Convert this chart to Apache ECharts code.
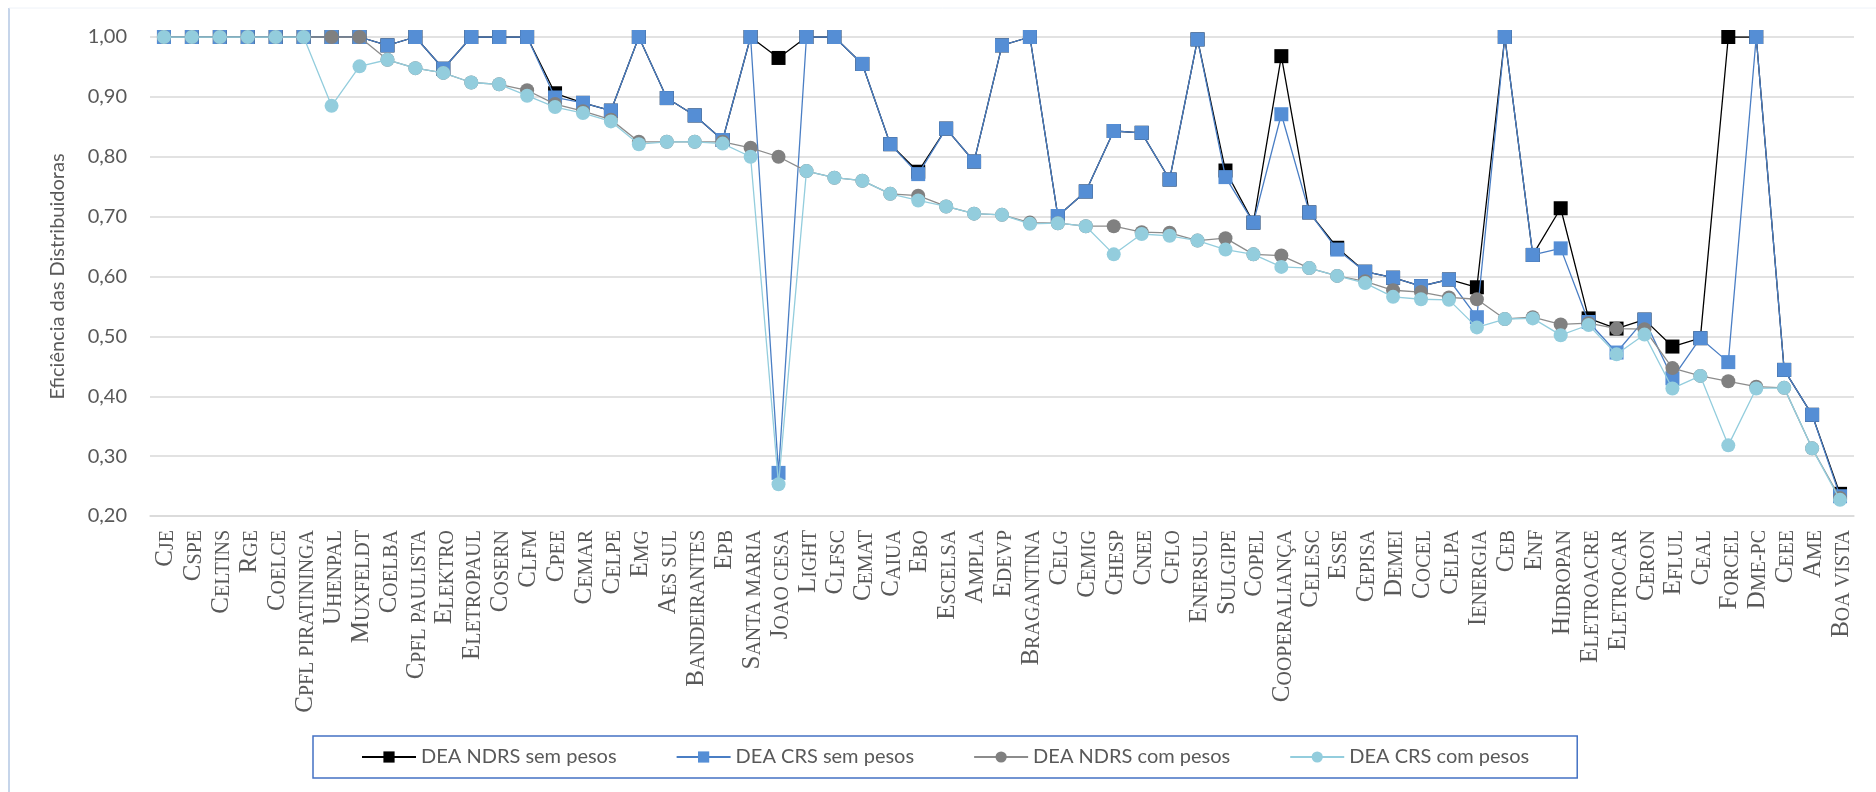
<!DOCTYPE html>
<html>
<head>
<meta charset="utf-8">
<script src="https://cdn.jsdelivr.net/npm/echarts@6/dist/echarts.min.js"></script>
<style>
  html, body { margin: 0; padding: 0; background: #fff; }
  #chart { width: 1876px; height: 792px; }
</style>
</head>
<body>
<div id="chart"></div>
<script>
    // distribuidoras
    var categorias = ['CJE','CSPE','CELTINS','RGE','COELCE','CPFL PIRATININGA','UHENPAL','MUXFELDT','COELBA','CPFL PAULISTA',
        'ELEKTRO','ELETROPAUL','COSERN','CLFM','CPEE','CEMAR','CELPE','EMG','AES SUL','BANDEIRANTES',
        'EPB','SANTA MARIA','JOAO CESA','LIGHT','CLFSC','CEMAT','CAIUA','EBO','ESCELSA','AMPLA',
        'EDEVP','BRAGANTINA','CELG','CEMIG','CHESP','CNEE','CFLO','ENERSUL','SULGIPE','COPEL',
        'COOPERALIANÇA','CELESC','ESSE','CEPISA','DEMEI','COCEL','CELPA','IENERGIA','CEB','ENF',
        'HIDROPAN','ELETROACRE','ELETROCAR','CERON','EFLUL','CEAL','FORCEL','DME-PC','CEEE','AME',
        'BOA VISTA'];

    var ndrsSemPesos = [1,1,1,1,1,1,1,1,0.986,1,
        0.947,1,1,1,0.906,0.890,0.877,1,0.898,0.869,
        0.828,1,0.965,1,1,0.955,0.821,0.775,0.847,0.792,
        0.986,1,0.701,0.742,0.843,0.840,0.762,0.996,0.777,0.690,
        0.968,0.707,0.648,0.608,0.598,0.584,0.595,0.582,1,0.636,
        0.714,0.530,0.513,0.528,0.483,0.497,1,1,0.444,0.369,
        0.237];

    var crsSemPesos = [1,1,1,1,1,1,1,1,0.986,1,
        0.947,1,1,1,0.899,0.890,0.877,1,0.898,0.869,
        0.828,1,0.272,1,1,0.955,0.821,0.771,0.847,0.792,
        0.986,1,0.701,0.742,0.843,0.840,0.762,0.996,0.766,0.690,
        0.871,0.707,0.645,0.608,0.598,0.584,0.595,0.532,1,0.636,
        0.647,0.524,0.473,0.528,0.430,0.497,0.457,1,0.444,0.369,
        0.233];

    var ndrsComPesos = [1,1,1,1,1,1,1,1,0.962,0.948,
        0.940,0.924,0.921,0.911,0.888,0.876,0.862,0.825,0.825,0.825,
        0.825,0.815,0.800,0.776,0.765,0.760,0.738,0.735,0.717,0.705,
        0.703,0.690,0.689,0.684,0.684,0.674,0.673,0.660,0.664,0.637,
        0.635,0.614,0.601,0.592,0.577,0.574,0.565,0.562,0.529,0.532,
        0.520,0.522,0.513,0.512,0.447,0.434,0.425,0.416,0.414,0.313,
        0.230];

    var crsComPesos = [1,1,1,1,1,1,0.885,0.951,0.962,0.948,
        0.940,0.924,0.921,0.902,0.883,0.873,0.859,0.821,0.825,0.825,
        0.822,0.800,0.253,0.776,0.765,0.760,0.738,0.727,0.717,0.705,
        0.703,0.688,0.689,0.684,0.637,0.671,0.668,0.660,0.645,0.637,
        0.616,0.614,0.601,0.589,0.566,0.562,0.561,0.515,0.529,0.530,
        0.502,0.519,0.470,0.503,0.413,0.434,0.318,0.413,0.414,0.313,
        0.227];

    var nomes = ['DEA NDRS sem pesos', 'DEA CRS sem pesos', 'DEA NDRS com pesos', 'DEA CRS com pesos'];

    var myChart = echarts.init(document.getElementById('chart'));

    function serie(nome, dados, cor, corLinha, simbolo, tam, z) {
        return {
            name: nome,
            type: 'line',
            data: dados,
            z: z,
            symbol: simbolo,
            symbolSize: tam,
            showAllSymbol: true,
            animation: false,
            itemStyle: { color: cor, borderWidth: 0 },
            lineStyle: { color: corLinha, width: 1.3 }
        };
    }

    var option = {
        backgroundColor: '#fff',
        textStyle: { fontFamily: 'Lato' },
        graphic: [
            { type: 'line', shape: { x1: 9, y1: 8, x2: 9, y2: 792 }, style: { stroke: '#C6D5EA', lineWidth: 2 } },
            { type: 'line', shape: { x1: 9, y1: 8, x2: 1876, y2: 8 }, style: { stroke: '#EEF2F8', lineWidth: 1 } }
        ],
        grid: { left: 150, right: 22, top: 37, bottom: 276 },
        legend: {
            data: nomes,
            left: 313,
            top: 736,
            padding: [11, 48, 11, 48],
            itemGap: 59,
            itemWidth: 54,
            itemHeight: 14,
            borderColor: '#4472C4',
            borderWidth: 1.5,
            textStyle: { color: '#595959', fontSize: 20, fontFamily: 'Lato' }
        },
        xAxis: {
            type: 'category',
            data: categorias,
            boundaryGap: true,
            axisTick: { show: false },
            axisLine: { show: true, lineStyle: { color: '#D9D9D9', width: 1.5 } },
            axisLabel: {
                interval: 0,
                rotate: 90,
                margin: 14,
                color: '#595959',
                formatter: function (v) {
                    return '{a|' + v.charAt(0) + '}{b|' + v.slice(1) + '}';
                },
                rich: {
                    a: { fontFamily: 'Liberation Serif', fontSize: 25, color: '#595959', verticalAlign: 'bottom', lineHeight: 28 },
                    b: { fontFamily: 'Liberation Serif', fontSize: 20, color: '#595959', verticalAlign: 'bottom', lineHeight: 28 }
                }
            }
        },
        yAxis: {
            type: 'value',
            min: 0.2,
            max: 1,
            interval: 0.1,
            name: 'Eficiência das Distribuidoras',
            nameLocation: 'middle',
            nameGap: 82,
            nameTextStyle: { color: '#595959', fontSize: 20, fontFamily: 'Lato' },
            axisLine: { show: false },
            axisTick: { show: false },
            splitLine: { lineStyle: { color: '#D9D9D9', width: 1.5 } },
            axisLabel: {
                margin: 23,
                color: '#595959',
                fontSize: 20,
                fontFamily: 'Lato',
                formatter: function (v) { return v.toFixed(2).replace('.', ','); }
            }
        },
        series: [
            serie(nomes[0], ndrsSemPesos, '#000000', '#000000', 'rect', 14, 2),
            serie(nomes[1], crsSemPesos, '#558ED5', '#4A7EC4', 'rect', 14, 3),
            serie(nomes[2], ndrsComPesos, '#808080', '#8C8C8C', 'circle', 14, 4),
            serie(nomes[3], crsComPesos, '#93CDDD', '#93CDDD', 'circle', 14, 5)
        ]
    };
    myChart.setOption(option);
</script>
</body>
</html>
